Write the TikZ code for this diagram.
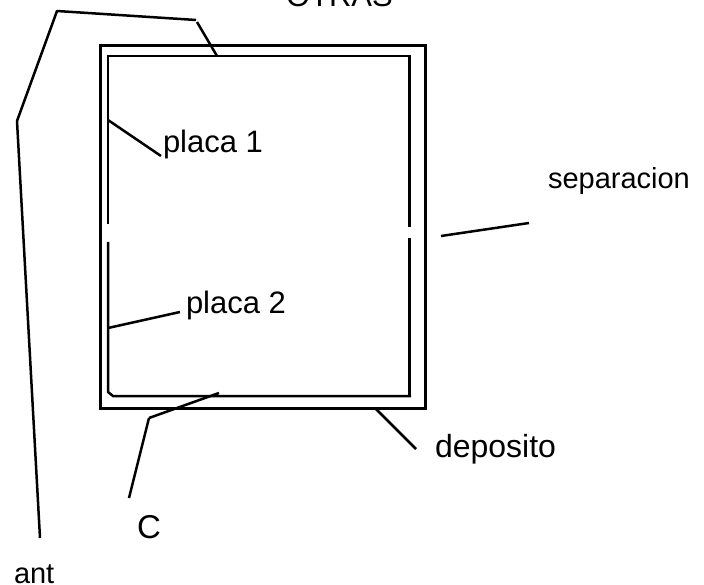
\documentclass[tikz,border=0pt]{standalone}
\usepackage{fontspec}
\setmainfont{Liberation Sans}
\tikzset{
  ln/.style={line width=2.5pt,black},
  wall/.style={line width=3pt,black},
  lab/.style={inner sep=0pt,outer sep=0pt,anchor=base west,font=\fontsize{31}{34}\selectfont},
  labs/.style={inner sep=0pt,outer sep=0pt,anchor=base west,font=\fontsize{29}{32}\selectfont}
}
\begin{document}
\begin{tikzpicture}[x=1pt,y=-1pt]
\useasboundingbox (0,0) rectangle (704,585);
\clip (0,0) rectangle (704,585);
% tank
\node[draw,wall,outer sep=0pt,minimum width=325pt,minimum height=362pt,inner sep=0pt,anchor=north west] (box) at (100,46) {};
\coordinate (tl) at (106.5,56); \coordinate (tr) at (410.5,56);
\coordinate (lt) at (108,56); \coordinate (lm1) at (108,224); \coordinate (lm2) at (108,242);
\coordinate (lb) at (108,392); \coordinate (bl) at (113,396); \coordinate (br) at (411,396);
\coordinate (rt) at (409.5,56); \coordinate (rm1) at (409.5,227); \coordinate (rm2) at (409.5,238); \coordinate (rb) at (409.5,396);
\draw[ln] (tl) -- (tr);
\draw[ln] (lt) -- (lm1);
\draw[ln] (lm2) -- (lb) -- (bl) -- (br);
\draw[ln] (rt) -- (rm1);
\draw[ln] (rm2) -- (rb);
% labels
\node[lab] (otras) at (286,7) {OTRAS};
\node[lab] (p1) at (163,153) {placa 1};
\node[lab] (p2) at (186,313) {placa 2};
\node[labs] (sep) at (548,189) {separacion};
\node[lab,font=\fontsize{32}{34}\selectfont] (dep) at (435,457) {deposito};
\node[lab,font=\fontsize{33}{35}\selectfont] (c) at (137,538) {C};
\node[labs] (ant) at (14,583) {ant};
% leaders
\coordinate (a0) at (40,538); \coordinate (a1) at (17,121); \coordinate (a2) at (57,11); \coordinate (a3) at (196,20);
\coordinate (a4) at (197,22); \coordinate (a5) at (217,56);
\draw[ln,line join=round] (a0) -- (a1) -- (a2) -- (a3);
\draw[ln] (a4) -- (a5);
\coordinate (p1a) at (108,120); \coordinate (p1b) at (161,156);
\draw[ln] (p1a) -- (p1b);
\coordinate (p2a) at (108,328); \coordinate (p2b) at (180,312);
\draw[ln] (p2a) -- (p2b);
\coordinate (c1) at (219,393); \coordinate (c2) at (149,418); \coordinate (c3) at (129,498);
\draw[ln] (c1) -- (c2);
\draw[ln] (c2) -- (c3);
\coordinate (s1) at (441,236); \coordinate (s2) at (529,223);
\draw[ln] (s1) -- (s2);
\coordinate (d1) at (376,409); \coordinate (d2) at (416,449);
\draw[ln] (d1) -- (d2);
\end{tikzpicture}
\end{document}
